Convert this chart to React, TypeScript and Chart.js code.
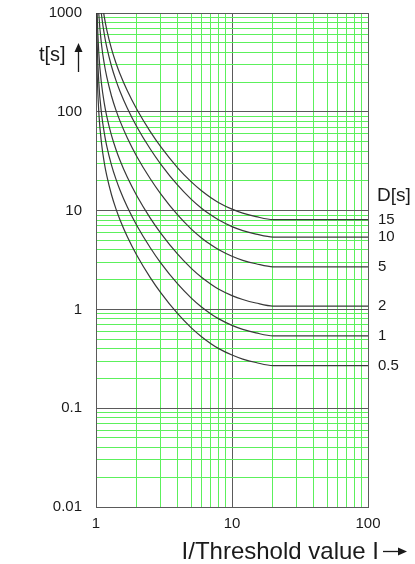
import React, { useEffect, useRef } from 'react';
import { Chart, registerables } from 'chart.js';

Chart.register(...registerables);

// I / threshold value (x)
const currentRatio = [1.003, 1.005, 1.01, 1.02, 1.05, 1.1, 1.15, 1.2, 1.3, 1.4, 1.5, 1.7, 2, 2.5, 3, 4, 5, 6, 7, 8, 10, 12, 15, 20, 100];

// trip time t[s] for each D[s] setting
const timeD15 = [null, null, null, null, null, 1408, 919.5, 675.9, 433.7, 313.8, 242.7, 163.1, 105.4, 63.39, 44.13, 26.97, 19.62, 15.77, 13.5, 12.03, 10.34, 9.42, 8.69, 8.1, 8.1];
const timeD10 = [null, null, null, null, 1918, 938.7, 613.0, 450.6, 289.1, 209.2, 161.8, 108.7, 70.28, 42.26, 29.42, 17.98, 13.08, 10.51, 9.0, 8.02, 6.89, 6.28, 5.79, 5.4, 5.4];
const timeD5 = [null, null, null, 2430, 959.0, 469.4, 306.5, 225.3, 144.6, 104.6, 80.9, 54.35, 35.14, 21.13, 14.71, 8.99, 6.54, 5.26, 4.5, 4.01, 3.45, 3.14, 2.9, 2.7, 2.7];
const timeD2 = [null, null, 1952, 971.8, 383.6, 187.7, 122.6, 90.12, 57.82, 41.84, 32.36, 21.74, 14.06, 8.45, 5.88, 3.6, 2.62, 2.1, 1.8, 1.6, 1.38, 1.26, 1.16, 1.08, 1.08];
const timeD1 = [null, 1956.6, 976.1, 485.9, 191.8, 93.87, 61.3, 45.06, 28.91, 20.92, 16.18, 10.87, 7.03, 4.23, 2.94, 1.8, 1.31, 1.05, 0.9, 0.802, 0.689, 0.628, 0.579, 0.54, 0.54];
const timeD05 = [1632, 978.3, 488.1, 242.9, 95.9, 46.94, 30.65, 22.53, 14.46, 10.46, 8.09, 5.44, 3.51, 2.11, 1.47, 0.899, 0.654, 0.526, 0.45, 0.401, 0.345, 0.314, 0.29, 0.27, 0.27];

const dLabels = ['15', '10', '5', '2', '1', '0.5'];

const xTickValues = [1, 2, 3, 4, 5, 6, 7, 8, 9, 10, 20, 30, 40, 50, 60, 70, 80, 90, 100];
const xDecades = [1, 10, 100];
const xDecadeLabels = ['1', '10', '100'];

const yTickValues = [
  0.01, 0.02, 0.03, 0.04, 0.05, 0.06, 0.07, 0.08, 0.09,
  0.1, 0.2, 0.3, 0.4, 0.5, 0.6, 0.7, 0.8, 0.9,
  1, 2, 3, 4, 5, 6, 7, 8, 9,
  10, 20, 30, 40, 50, 60, 70, 80, 90,
  100, 200, 300, 400, 500, 600, 700, 800, 900,
  1000,
];
const yDecades = [0.01, 0.1, 1, 10, 100, 1000];
const yDecadeLabels = ['0.01', '0.1', '1', '10', '100', '1000'];

const yTitle = 't[s]';
const xTitle = 'I/Threshold value I';
const dTitle = 'D[s]';

const FONT = '"Liberation Sans", Arial, Helvetica, sans-serif';
const MINOR = '#5cf05c';
const MAJOR = '#5a5a5a';
const CURVE = '#383838';
const TEXT = '#1a1a1a';

function decadeIndex(v: number, list: number[]): number {
  for (let i = 0; i < list.length; i++) {
    if (Math.abs(v - list[i]) <= list[i] * 1e-9) return i;
  }
  return -1;
}

const annotate = {
  id: 'annotate',
  afterDraw(chart: any) {
    const ctx = chart.ctx;
    const y = chart.scales.y;
    ctx.save();
    ctx.fillStyle = TEXT;
    ctx.strokeStyle = TEXT;

    // y title with up arrow
    ctx.font = `20px ${FONT}`;
    ctx.textAlign = 'left';
    ctx.textBaseline = 'alphabetic';
    ctx.fillText(yTitle, 39, 61);
    ctx.lineWidth = 1.3;
    ctx.beginPath();
    ctx.moveTo(78.5, 72);
    ctx.lineTo(78.5, 50);
    ctx.stroke();
    ctx.beginPath();
    ctx.moveTo(74.5, 52);
    ctx.lineTo(82.5, 52);
    ctx.lineTo(78.5, 43);
    ctx.closePath();
    ctx.fill();

    // D[s] legend on the right
    const right = chart.chartArea.right;
    ctx.font = `19px ${FONT}`;
    ctx.textBaseline = 'middle';
    ctx.fillText(dTitle, right + 9, 196);
    ctx.font = `15px ${FONT}`;
    chart.data.datasets.forEach((ds: any, i: number) => {
      const last = ds.data[ds.data.length - 1].y;
      ctx.fillText(dLabels[i], right + 10, y.getPixelForValue(last));
    });

    // x title with right arrow
    ctx.font = `24px ${FONT}`;
    ctx.textAlign = 'right';
    ctx.textBaseline = 'alphabetic';
    ctx.fillText(xTitle, 379, 559);
    ctx.beginPath();
    ctx.moveTo(383, 551.5);
    ctx.lineTo(400, 551.5);
    ctx.stroke();
    ctx.beginPath();
    ctx.moveTo(398, 547.5);
    ctx.lineTo(398, 555.5);
    ctx.lineTo(407, 551.5);
    ctx.closePath();
    ctx.fill();
    ctx.restore();
  },
};

export default function App() {
  const ref = useRef<HTMLCanvasElement>(null);

  useEffect(() => {
    const canvas = ref.current;
    if (!canvas) return;
    const series = [timeD15, timeD10, timeD5, timeD2, timeD1, timeD05];
    const chart = new Chart(canvas, {
      type: 'line',
      data: {
        datasets: series.map((vals, i) => ({
          label: 'D=' + dLabels[i],
          data: currentRatio.map((x, j) => ({ x, y: vals[j] })),
          borderColor: CURVE,
          borderWidth: 1.2,
          pointRadius: 0,
          fill: false,
          cubicInterpolationMode: 'monotone',
        })),
      },
      options: {
        responsive: false,
        animation: false,
        events: [],
        layout: { padding: { left: 0, top: 13, right: 47, bottom: 0 } },
        plugins: { legend: { display: false }, tooltip: { enabled: false } },
        scales: {
          x: {
            type: 'logarithmic',
            min: 1,
            max: 100,
            afterBuildTicks: (s: any) => {
              s.ticks = xTickValues.map((v) => ({ value: v }));
            },
            afterFit: (s: any) => {
              s.height = 57;
              s.paddingLeft = 0;
              s.paddingRight = 0;
            },
            grid: {
              drawTicks: false,
              lineWidth: 1,
              color: (c: any) => (decadeIndex(c.tick ? c.tick.value : 0, xDecades) >= 0 ? MAJOR : MINOR),
            },
            border: { display: true, color: MAJOR, width: 1 },
            ticks: {
              autoSkip: false,
              maxRotation: 0,
              padding: 8,
              color: TEXT,
              font: { family: FONT, size: 15 },
              callback: (v: any) => {
                const k = decadeIndex(Number(v), xDecades);
                return k >= 0 ? xDecadeLabels[k] : '';
              },
            },
          },
          y: {
            type: 'logarithmic',
            min: 0.01,
            max: 1000,
            afterBuildTicks: (s: any) => {
              s.ticks = yTickValues.map((v) => ({ value: v }));
            },
            afterFit: (s: any) => {
              s.width = 96;
              s.paddingTop = 0;
              s.paddingBottom = 0;
            },
            grid: {
              drawTicks: false,
              lineWidth: 1,
              color: (c: any) => (decadeIndex(c.tick ? c.tick.value : 0, yDecades) >= 0 ? MAJOR : MINOR),
            },
            border: { display: true, color: MAJOR, width: 1 },
            ticks: {
              autoSkip: false,
              padding: 14,
              color: TEXT,
              font: { family: FONT, size: 15 },
              callback: (v: any) => {
                const k = decadeIndex(Number(v), yDecades);
                return k >= 0 ? yDecadeLabels[k] : '';
              },
            },
          },
        },
      } as any,
      plugins: [annotate],
    });
    return () => chart.destroy();
  }, []);

  return (
    <div style={{ position: 'fixed', left: 0, top: 0, width: 415, height: 564, background: '#fff' }}>
      <canvas ref={ref} width={415} height={564} style={{ display: 'block', width: 415, height: 564 }} />
    </div>
  );
}
